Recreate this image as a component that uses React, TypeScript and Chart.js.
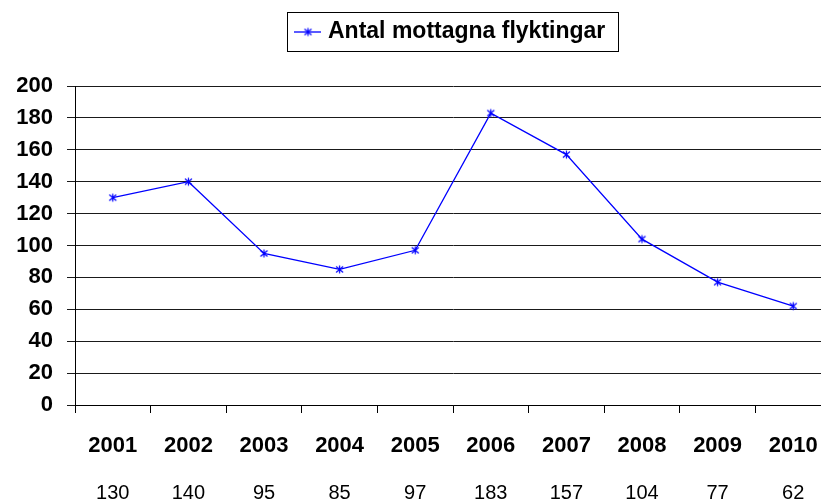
import React, { useEffect, useRef } from "react";
import { Chart, registerables } from "chart.js";

Chart.register(...registerables);

const years = ["2001", "2002", "2003", "2004", "2005", "2006", "2007", "2008", "2009", "2010"];
const refugees = [130, 140, 95, 85, 97, 183, 157, 104, 77, 62];
const valueLabels = ["130", "140", "95", "85", "97", "183", "157", "104", "77", "62"];
const seriesName = "Antal mottagna flyktingar";

const FONT = "'Liberation Sans', Arial, sans-serif";
const BLUE = "#0000FF";

function makeMarker(): HTMLCanvasElement {
  const c = document.createElement("canvas");
  c.width = 11;
  c.height = 11;
  const g = c.getContext("2d")!;
  g.strokeStyle = BLUE;
  g.lineWidth = 1.2;
  g.beginPath();
  g.moveTo(5.5, 1.5);
  g.lineTo(5.5, 9.5);
  g.moveTo(2, 2.5);
  g.lineTo(9, 8.5);
  g.moveTo(9, 2.5);
  g.lineTo(2, 8.5);
  g.stroke();
  return c;
}

export default function App() {
  const ref = useRef<HTMLCanvasElement>(null);

  useEffect(() => {
    document.body.style.margin = "0";
    const marker = makeMarker();

    const legendPlugin = {
      id: "boxLegend",
      afterDraw(chart: any) {
        const ctx = chart.ctx;
        ctx.save();
        ctx.strokeStyle = "#000";
        ctx.lineWidth = 1;
        ctx.strokeRect(287.5, 12.5, 331, 39);
        ctx.strokeStyle = BLUE;
        ctx.lineWidth = 1.3;
        ctx.beginPath();
        ctx.moveTo(294, 32);
        ctx.lineTo(321, 32);
        ctx.stroke();
        ctx.drawImage(marker, 308 - 5.5, 32 - 5.5);
        ctx.fillStyle = "#000";
        ctx.font = `bold 23px ${FONT}`;
        ctx.textBaseline = "middle";
        ctx.textAlign = "left";
        ctx.fillText(seriesName, 328, 32);
        ctx.restore();
      },
    };

    const chart = new Chart(ref.current!, {
      type: "line",
      data: {
        labels: years,
        datasets: [
          {
            label: seriesName,
            data: refugees,
            borderColor: BLUE,
            backgroundColor: BLUE,
            borderWidth: 1.3,
            pointStyle: marker as any,
            pointRadius: 5,
            tension: 0,
            xAxisID: "x",
            yAxisID: "y",
          },
        ],
      },
      options: {
        animation: false,
        responsive: false,
        maintainAspectRatio: false,
        layout: { padding: { top: 86, right: 19, left: 0, bottom: 0 } },
        plugins: {
          legend: { display: false },
          tooltip: { enabled: false },
        },
        scales: {
          x: {
            type: "category",
            position: "bottom",
            weight: 0,
            offset: true,
            grid: {
              display: true,
              offset: true,
              drawOnChartArea: false,
              drawTicks: true,
              tickLength: 8,
              color: "#000",
              lineWidth: 1,
            },
            border: { display: true, color: "#000", width: 1 },
            ticks: {
              color: "#000",
              font: { family: FONT, size: 22, weight: "bold" },
              padding: 20,
              maxRotation: 0,
              autoSkip: false,
            },
            afterFit(scale: any) {
              scale.height = 60;
            },
          },
          x2: {
            type: "category",
            position: "bottom",
            weight: 1,
            labels: valueLabels,
            offset: true,
            grid: { display: false, drawTicks: false },
            border: { display: false },
            ticks: {
              color: "#000",
              font: { family: FONT, size: 20, weight: "normal" },
              padding: 16,
              maxRotation: 0,
              autoSkip: false,
            },
            afterFit(scale: any) {
              scale.height = 37;
            },
          },
          y: {
            min: 0,
            max: 200,
            ticks: {
              stepSize: 20,
              color: "#000",
              font: { family: FONT, size: 22, weight: "bold" },
              padding: 14,
            },
            grid: {
              color: "#1a1a1a",
              lineWidth: 1,
              drawTicks: true,
              tickLength: 8,
            },
            border: { display: true, color: "#000", width: 1 },
            afterFit(scale: any) {
              scale.width = 75;
            },
          },
        },
      },
      plugins: [legendPlugin],
    } as any);

    return () => chart.destroy();
  }, []);

  return (
    <div style={{ width: 821, height: 502, overflow: "hidden", position: "relative" }}>
      <canvas ref={ref} width={850} height={502} style={{ display: "block", width: 850, height: 502 }} />
    </div>
  );
}
